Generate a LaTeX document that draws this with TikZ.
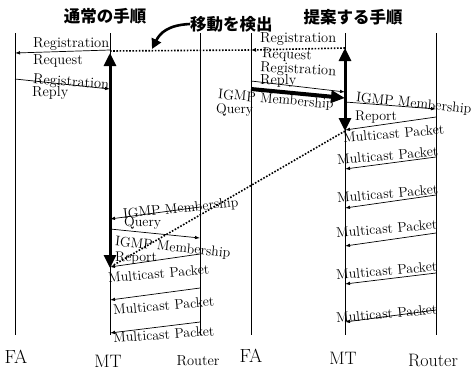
\documentclass[tikz,border=0pt]{standalone}
\usepackage{fontspec}
\newfontfamily\jp{Noto Sans CJK JP}
\usetikzlibrary{arrows.meta}
\begin{document}
\begin{tikzpicture}[x=1pt,y=-1pt,
  life/.style={line width=0.7pt},
  msg/.style={line width=0.7pt,-{Latex[length=5pt,width=3.5pt]}},
  bigarrow/.style={line width=3pt,{Triangle[length=13pt,width=12pt]}-{Triangle[length=13pt,width=12pt]}},
  fatarrow/.style={line width=4pt,-{Triangle[length=14pt,width=12pt]}},
  dots/.style={line width=1.6pt,dash pattern=on 1.6pt off 1.6pt},
  lbl/.style={inner sep=0pt,anchor=west,font=\fontsize{14}{16}\selectfont},
  rlbl/.style={inner sep=0pt,anchor=west,font=\fontsize{14.5}{16}\selectfont},
  ttl/.style={inner sep=0pt,font=\jp\bfseries\fontsize{16.5}{18}\selectfont},
  endlbl/.style={inner sep=0pt,font=\fontsize{18}{20}\selectfont},
]
\useasboundingbox (0,0) rectangle (473,370);

% titles
\node[ttl] (t1) at (105,16) {通常の手順};
\node[ttl] (t2) at (353,17) {提案する手順};
\node[ttl,anchor=west] (detect) at (190,24) {移動を検出};

% lifelines
\foreach \n/\x in {faL/15,mtL/110,rtL/200,faR/251,mtR/345,rtR/436}{
  \coordinate (\n t) at (\x,33);
  \coordinate (\n b) at (\x,335);
  \draw[life] (\n t) -- (\n b);
}

% bottom labels
\node[endlbl,font=\fontsize{19}{21}\selectfont] (lFA) at (16,357) {FA};
\node[endlbl] (lMT) at (108,361) {MT};
\node[endlbl,font=\fontsize{14.5}{16}\selectfont] (lRT) at (198,361) {Router};
\node[endlbl,font=\fontsize{19}{21}\selectfont] (rFA) at (251,356) {FA};
\node[endlbl] (rMT) at (343,358) {MT};
\node[endlbl] (rRT) at (433,360) {Router};

% ---------- left panel ----------
\coordinate (a1s) at (110,50);  \coordinate (a1e) at (15,53);
\coordinate (a2s) at (15,79);   \coordinate (a2e) at (110,89);
\coordinate (a3s) at (200,207); \coordinate (a3e) at (110,219);
\coordinate (a4s) at (110,229); \coordinate (a4e) at (200,238);
\coordinate (a5s) at (200,254); \coordinate (a5e) at (110,267);
\coordinate (a6s) at (200,288); \coordinate (a6e) at (110,300);
\coordinate (a7s) at (200,322); \coordinate (a7e) at (110,333);
\foreach \i in {1,...,7}{\draw[msg] (a\i s) -- (a\i e);}

\coordinate (thLt) at (110,53); \coordinate (thLb) at (110,268);
\draw[bigarrow] (thLb) -- (thLt);

\node[rlbl] (la1) at (33,44) {Registration};
\node[rlbl] (la2) at (33,61) {Request};
\node[rlbl,rotate=-4] (la3) at (33,80) {Registration};
\node[rlbl] (la4) at (32,93) {Reply};
\node[lbl,rotate=6] (la5) at (123,215) {IGMP Membership};
\node[lbl] (la6) at (124,223) {Query};
\node[lbl,rotate=-6] (la7) at (115,242) {IGMP Membership};
\node[lbl] (la8) at (115,258) {Report};
\node[lbl,rotate=5] (la9) at (108,278) {Multicast Packet};
\node[lbl,rotate=5] (la10) at (113,310) {Multicast Packet};
\node[lbl,rotate=4] (la11) at (113,338) {Multicast Packet};

% ---------- right panel ----------
\coordinate (b1s) at (345,48);  \coordinate (b1e) at (251,50);
\draw[dots,-{Latex[length=5pt,width=4pt]}] (b1s) -- (b1e);
\coordinate (b2s) at (251,81);  \coordinate (b2e) at (345,92);
\draw[msg] (b2s) -- (b2e);
\coordinate (b3s) at (251,89);  \coordinate (b3e) at (345,98);
\draw[fatarrow] (b3s) -- (b3e);
\coordinate (b4s) at (345,102); \coordinate (b4e) at (436,109);
\coordinate (b5s) at (436,117); \coordinate (b5e) at (345,130);
\coordinate (b6s) at (436,157); \coordinate (b6e) at (345,169);
\coordinate (b7s) at (436,195); \coordinate (b7e) at (345,208);
\coordinate (b8s) at (436,233); \coordinate (b8e) at (345,246);
\coordinate (b9s) at (436,273); \coordinate (b9e) at (345,284);
\coordinate (b10s) at (436,310); \coordinate (b10e) at (345,322);
\foreach \i in {4,...,10}{\draw[msg] (b\i s) -- (b\i e);}

\coordinate (thRt) at (345,48); \coordinate (thRb) at (345,131);
\draw[bigarrow] (thRb) -- (thRt);

\node[rlbl] (lb1) at (260,39) {Registration};
\node[rlbl,rotate=-3] (lb2) at (262,54) {Request};
\node[rlbl,rotate=-3] (lb3) at (260,68) {Registration};
\node[rlbl] (lb4) at (260,81) {Reply};
\node[lbl,rotate=-5] (lb5) at (218,95) {IGMP Membership};
\node[lbl] (lb6) at (216,110) {Query};
\node[lbl,rotate=-6] (lb7) at (356,98) {IGMP Membership};
\node[lbl] (lb8) at (355,117) {Report};
\node[lbl,rotate=5] (lb9) at (343,138) {Multicast Packet};
\node[lbl,rotate=5] (lb10) at (337,160) {Multicast Packet};
\node[lbl,rotate=5] (lb11) at (337,198) {Multicast Packet};
\node[lbl,rotate=5] (lb12) at (336,233) {Multicast Packet};
\node[lbl,rotate=5] (lb13) at (336,275) {Multicast Packet};
\node[lbl,rotate=5] (lb14) at (336,318) {Multicast Packet};

% ---------- movement detection ----------
\coordinate (mvs) at (110,51); \coordinate (mve) at (251,50);
\draw[dots] (mvs) -- (mve);
\coordinate (dgs) at (345,131); \coordinate (dge) at (112,266);
\draw[dots] (dgs) -- (dge);
\coordinate (ctip) at (152,49);
\draw[line width=2.6pt,-{Triangle[length=10pt,width=10pt]}]
  (detect.west) .. controls (168,25) and (160,33) .. (ctip);
\end{tikzpicture}
\end{document}
